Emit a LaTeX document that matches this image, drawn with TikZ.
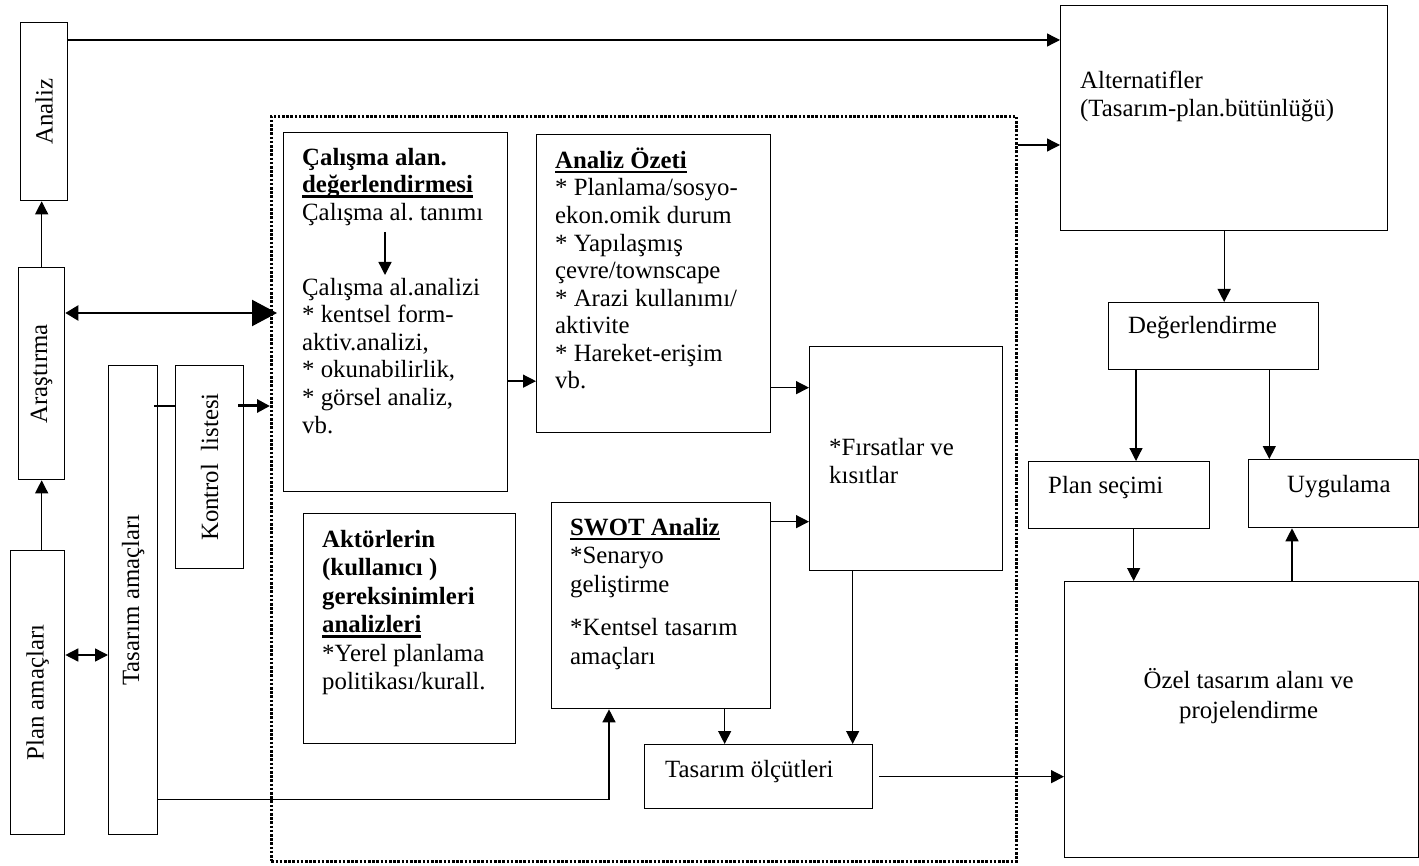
\documentclass[tikz,border=0pt]{standalone}
\usepackage{fontspec}
\setmainfont{Liberation Serif}
\usetikzlibrary{arrows.meta, positioning}
\newcommand{\uln}[1]{\setbox0\hbox{#1}\rlap{\rule[-5pt]{\wd0}{2.3pt}}\box0}
\newcommand{\topstrut}{\rule{0pt}{22pt}}
\tikzset {
  box/.style = {draw, line width=1.3pt, inner sep=0pt, anchor=north west, font=\fontsize{24.8}{28.5}\selectfont},
  wh/.style 2 args = {minimum width=#1pt, minimum height=#2pt},
  dotbox/.style = {draw, line width=2.6pt, dash pattern=on 2.6pt off 1.6pt, inner sep=0pt, anchor=north west},
  txt/.style = {inner sep=0pt, align=left, font=\fontsize{24.8}{28.5}\selectfont},
  tighttxt/.style = {inner sep=0pt, align=left, font=\fontsize{24.8}{27.6}\selectfont},
  line/.style = {-{Triangle[length=13pt, width=13pt]}, line width=1.3pt},
  link/.style = {line width=1.3pt, shorten <=-4pt},
  twoway/.style = {{Triangle[length=13pt, width=13pt]}-{Triangle[length=13pt, width=13pt]}, line width=1.5pt},
  bigway/.style = {{Triangle[length=13pt, width=15pt]}-{Triangle[length=25pt, width=26pt]}, line width=2.2pt, shorten >=-7pt},
  boldline/.style = {-{Triangle[length=13pt, width=13pt]}, line width=3pt, shorten <=-6pt}
}

\begin{document}
\frenchspacing
\begin{tikzpicture}[x=1pt, y=-1pt]
    \useasboundingbox (0,0) rectangle (1419,866);

    % left column
    \node[box, wh={47}{178}] (analiz) at (20,22) {\rotatebox{90}{Analiz}};
    \node[box, wh={46}{212}] (arastirma) at (18,267) {\rotatebox{90}{Araştırma}};
    \node[box, wh={54}{284}] (planam) at (10,550) {\rotatebox{90}{Plan amaçları}};
    \node[box, wh={49}{469}] (tasam) at (108,365) {\rotatebox{90}{Tasarım amaçları}};
    \node[box, wh={68}{203}] (kontrol) at (175,365) {\rotatebox{90}{Kontrol~~listesi}};

    % dotted frame
    \node[dotbox, wh={745}{745}] (frame) at (270,115) {};
    \node[box, wh={224}{359}] (calisma) at (283,132) {};
    \node[box, wh={234}{298}] (ozeti) at (536,134) {};
    \node[box, wh={193}{224}] (firsat) at (809,346) {};
    \node[box, wh={212}{230}] (aktor) at (303,513) {};
    \node[box, wh={219}{206}] (swot) at (551,502) {};
    \node[box, wh={228}{64}] (olcut) at (644,744) {};

    \node[tighttxt, below right=11pt and 19pt of calisma.north west] (calismaTop)
      {\topstrut\textbf{Çalışma alan.}\\\textbf{\uln{değerlendirmesi}}\\Çalışma al. tanımı};
    \node[tighttxt, below right=141pt and 19pt of calisma.north west] (calismaBot)
      {\topstrut Çalışma al.analizi\\{*} kentsel form-\\aktiv.analizi,\\{*} okunabilirlik,\\{*} görsel analiz,\\vb.};
    \node[tighttxt, below right=12pt and 19pt of ozeti.north west] (ozetiTxt)
      {\topstrut\textbf{\uln{Analiz Özeti}}\\{*} Planlama/sosyo-\\ekon.omik durum\\{*} Yapılaşmış\\çevre/townscape\\{*} Arazi kullanımı/\\aktivite\\{*} Hareket-erişim\\vb.};
    \node[txt, below right=87pt and 20pt of firsat.north west] (firsatTxt)
      {\topstrut{*}Fırsatlar ve\\kısıtlar};
    \node[txt, below right=12pt and 19pt of aktor.north west] (aktorTxt)
      {\topstrut\textbf{Aktörlerin}\\\textbf{(kullanıcı )}\\\textbf{gereksinimleri}\\\textbf{\uln{analizleri}}\\{*}Yerel planlama\\politikası/kurall.};
    \node[txt, below right=11pt and 19pt of swot.north west] (swotTxt)
      {\topstrut\textbf{\uln{SWOT Analiz}}\\{*}Senaryo\\geliştirme\\[15pt]{*}Kentsel tasarım\\amaçları};
    \node[txt, below right=11pt and 21pt of olcut.north west] (olcutTxt)
      {\topstrut Tasarım ölçütleri};

    % right column
    \node[box, wh={327}{225}] (altern) at (1060,5) {};
    \node[box, wh={210}{67}] (degerl) at (1108,302) {};
    \node[box, wh={181}{67}] (plansec) at (1028,461) {};
    \node[box, wh={170}{68}] (uygul) at (1248,459) {};
    \node[box, wh={354}{276}] (ozel) at (1064,581) {};

    \node[txt, below right=61pt and 20pt of altern.north west] (alternTxt)
      {\topstrut Alternatifler\\(Tasarım-plan.bütünlüğü)};
    \node[txt, below right=9pt and 20pt of degerl.north west] (degerlTxt) {\topstrut Değerlendirme};
    \node[txt, below right=10pt and 20pt of plansec.north west] (plansecTxt) {\topstrut Plan seçimi};
    \node[txt, below right=11pt and 39pt of uygul.north west] (uygulTxt) {\topstrut Uygulama};
    \node[txt, align=center, font=\fontsize{24.8}{30}\selectfont, below=85pt of ozel.north, xshift=7pt] (ozelTxt)
      {\topstrut Özel tasarım alanı ve\\projelendirme};

    % connectors, left
    \draw[line] (arastirma.north) -- (arastirma.north |- analiz.south);
    \draw[line] (planam.north -| arastirma.south) -- (arastirma.south);
    \draw[twoway] ([yshift=-105pt]planam.north east) -- ([yshift=-105pt]planam.north east -| tasam.west);
    \draw[bigway] ([yshift=-46pt]arastirma.north east) -- ([yshift=-46pt]arastirma.north east -| frame.west);
    \draw[link] ([yshift=-41pt]tasam.north east) -- ([yshift=-41pt]tasam.north east -| kontrol.west);
    \draw[boldline] ([yshift=-41pt]kontrol.north east) -- ([yshift=-41pt]kontrol.north east -| frame.west);
    \draw[line] ([yshift=36pt]tasam.south east) -| ([xshift=58pt]swot.south west);
    \draw[line] ([yshift=-18pt]analiz.north east) -- ([yshift=-18pt]analiz.north east -| altern.west);

    % connectors, inside the frame
    \draw[line, shorten <=6pt, shorten >=-2pt] ([xshift=83pt]calismaTop.south west) -- ([xshift=83pt]calismaTop.south west |- calismaBot.north);
    \draw[line] ([yshift=-69pt]calisma.east) -- ([yshift=-69pt]calisma.east -| ozeti.west);
    \draw[line] ([yshift=-104pt]ozeti.east) -- ([yshift=-104pt]ozeti.east -| firsat.west);
    \draw[line] ([yshift=84pt]swot.east) -- ([yshift=84pt]swot.east -| firsat.west);
    \draw[line] ([xshift=63.5pt]swot.south) -- ([xshift=63.5pt]swot.south |- olcut.north);
    \draw[line] ([xshift=-53.5pt]firsat.south) -- ([xshift=-53.5pt]firsat.south |- olcut.north);
    \draw[line, shorten <=6pt] (olcut.east) -- (olcut.east -| ozel.west);

    % connectors, right
    \draw[line] ([yshift=-30pt]frame.north east) -- ([yshift=-30pt]frame.north east -| altern.west);
    \draw[line] (altern.south) -- (altern.south |- degerl.north);
    \draw[line] ([xshift=28pt]degerl.south west) -- ([xshift=28pt]degerl.south west |- plansec.north);
    \draw[line] ([xshift=-50pt]degerl.south east) -- ([xshift=-50pt]degerl.south east |- uygul.north);
    \draw[line] ([xshift=14.5pt]plansec.south) -- ([xshift=14.5pt]plansec.south |- ozel.north);
    \draw[line] ([xshift=44pt]uygul.south west |- ozel.north) -- ([xshift=44pt]uygul.south west);

\end{tikzpicture}
\end{document}
